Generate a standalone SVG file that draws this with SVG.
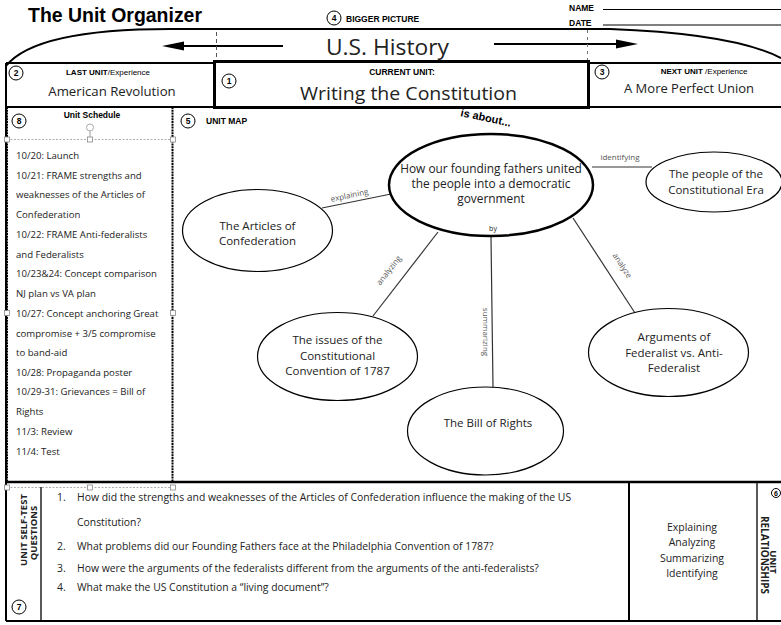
<svg xmlns="http://www.w3.org/2000/svg" width="781" height="625" viewBox="0 0 781 625">
<style>
.frame{fill:none;stroke:#000;stroke-width:2}
.thin{fill:none;stroke:#000;stroke-width:1}
.ar{font-family:"Liberation Sans",Arial,sans-serif}
.cb{font-family:"Open Sans","Noto Sans",sans-serif;fill:#222}
.num{font-family:"Liberation Sans",Arial,sans-serif;font-size:8.5px;font-weight:bold;text-anchor:middle}
.hdr{font-family:"Liberation Sans",Arial,sans-serif;font-size:8.5px;font-weight:bold}
.sch{font-family:"Open Sans","Noto Sans",sans-serif;font-size:9.6px;fill:#222}
.q{font-family:"Open Sans","Noto Sans",sans-serif;font-size:10.4px;fill:#222}
.node ellipse{fill:#fff;stroke:#000;stroke-width:1.2}
.node text{font-family:"Open Sans","Noto Sans",sans-serif;font-size:11.5px;fill:#222;text-anchor:middle}
.conn line{stroke:#333;stroke-width:1.2}
.lbl{font-family:"Open Sans","Noto Sans",sans-serif;font-size:8px;fill:#555;text-anchor:middle}
.handle{fill:#fff;stroke:#888;stroke-width:0.8}
.sel{stroke:#999;stroke-width:0.8;stroke-dasharray:2,1.5;fill:none}
.badge{fill:#fff;stroke:#000;stroke-width:1}
</style>
<rect width="781" height="625" fill="#fff"/>

<g id="title">
<text class="ar" x="28" y="22" font-size="19.5" font-weight="bold" textLength="174" lengthAdjust="spacingAndGlyphs">The Unit Organizer</text>
</g>
<g id="name-date">
<text class="hdr" x="569" y="11">NAME</text>
<line x1="603" y1="9.5" x2="781" y2="9.5" class="thin"/>
<text class="hdr" x="569" y="26">DATE</text>
<line x1="603" y1="25" x2="781" y2="25" class="thin"/>
</g>
<g id="bigger-picture">
<circle class="badge" cx="334" cy="18" r="7"/>
<text class="num" x="334" y="21">4</text>
<text class="hdr" x="346" y="22">BIGGER PICTURE</text>
<path d="M6,66 C30,36 100,29 170,29 L610,29 C690,32 750,42 781,58" class="frame"/>
<text class="cb" x="326" y="55" font-size="22" textLength="123" lengthAdjust="spacingAndGlyphs" fill="#111">U.S. History</text>
<line x1="283" y1="46" x2="180" y2="46" stroke="#000" stroke-width="2"/>
<polygon points="162,46 184,41.5 184,50.5" fill="#000"/>
<line x1="494" y1="44" x2="620" y2="44" stroke="#000" stroke-width="2"/>
<polygon points="638,44 616,39.5 616,48.5" fill="#000"/>
<line x1="216.5" y1="32" x2="216.5" y2="60" stroke="#555" stroke-width="1" stroke-dasharray="4,3"/>
<line x1="587.5" y1="30" x2="587.5" y2="60" stroke="#777" stroke-width="1" stroke-dasharray="3,4"/>
</g>

<g id="frame">
<line x1="6" y1="63" x2="781" y2="63" class="frame"/>
<line x1="6" y1="63" x2="6" y2="621" class="frame"/>
<line x1="6" y1="107" x2="781" y2="107" class="frame"/>
<line x1="6" y1="482" x2="781" y2="482" stroke="#000" stroke-width="2.5"/>
<line x1="6" y1="621" x2="781" y2="621" class="frame"/>
</g>

<g id="last-unit">
<circle class="badge" cx="16" cy="73" r="7"/>
<text class="num" x="16" y="76">2</text>
<text class="ar" x="108" y="75" font-size="8" text-anchor="middle"><tspan font-weight="bold">LAST UNIT</tspan>/Experience</text>
<text class="cb" x="112" y="96" font-size="13.2" text-anchor="middle">American Revolution</text>
</g>

<g id="current-unit">
<rect x="214.5" y="61.5" width="374" height="46" fill="#fff" stroke="#000" stroke-width="3"/>
<circle class="badge" cx="229" cy="81" r="7"/>
<text class="num" x="229" y="84">1</text>
<text class="hdr" x="402" y="75" text-anchor="middle">CURRENT UNIT:</text>
<text class="cb" x="408.5" y="100" font-size="18.5" text-anchor="middle" textLength="217" lengthAdjust="spacingAndGlyphs" fill="#111">Writing the Constitution</text>
</g>

<g id="next-unit">
<circle class="badge" cx="602" cy="72" r="7"/>
<text class="num" x="602" y="75">3</text>
<text class="ar" x="704" y="74" font-size="8" text-anchor="middle"><tspan font-weight="bold">NEXT UNIT</tspan> /Experience</text>
<text class="cb" x="689" y="93" font-size="13" text-anchor="middle">A More Perfect Union</text>
</g>

<g id="unit-schedule">
<line x1="7" y1="107" x2="7" y2="482" stroke="#000" stroke-width="2" stroke-dasharray="2,0.8"/>
<line x1="172.5" y1="107" x2="172.5" y2="482" stroke="#000" stroke-width="2" stroke-dasharray="2,0.8"/>
<circle class="badge" cx="19" cy="121" r="7"/>
<text class="num" x="19" y="124">8</text>
<text class="hdr" x="92" y="118" text-anchor="middle">Unit Schedule</text>
<line x1="90" y1="131" x2="90" y2="139" stroke="#888" stroke-width="0.8"/>
<circle cx="90" cy="127.5" r="3.5" fill="#fff" stroke="#aaa" stroke-width="1"/>
<line x1="7" y1="139.5" x2="173" y2="139.5" class="sel"/>
<line x1="7" y1="487.5" x2="173" y2="487.5" class="sel"/>
<rect class="handle" x="4.5" y="137" width="5" height="5"/>
<rect class="handle" x="87.5" y="137" width="5" height="5"/>
<rect class="handle" x="170.5" y="137" width="5" height="5"/>
<rect class="handle" x="4.5" y="310.5" width="5" height="5"/>
<rect class="handle" x="170.5" y="310.5" width="5" height="5"/>
<rect class="handle" x="4.5" y="485" width="5" height="5"/>
<rect class="handle" x="87.5" y="485" width="5" height="5"/>
<rect class="handle" x="170.5" y="485" width="5" height="5"/>
<text class="sch" x="16" y="159">10/20: Launch</text>
<text class="sch" x="16" y="179">10/21: FRAME strengths and</text>
<text class="sch" x="16" y="198">weaknesses of the Articles of</text>
<text class="sch" x="16" y="218">Confederation</text>
<text class="sch" x="16" y="238">10/22: FRAME Anti-federalists</text>
<text class="sch" x="16" y="258">and Federalists</text>
<text class="sch" x="16" y="277">10/23&amp;24: Concept comparison</text>
<text class="sch" x="16" y="297">NJ plan vs VA plan</text>
<text class="sch" x="16" y="317">10/27: Concept anchoring Great</text>
<text class="sch" x="16" y="337">compromise + 3/5 compromise</text>
<text class="sch" x="16" y="356">to band-aid</text>
<text class="sch" x="16" y="376">10/28: Propaganda poster</text>
<text class="sch" x="16" y="395">10/29-31: Grievances = Bill of</text>
<text class="sch" x="16" y="415">Rights</text>
<text class="sch" x="16" y="435">11/3: Review</text>
<text class="sch" x="16" y="455">11/4: Test</text>
</g>

<g id="unit-map-label">
<circle class="badge" cx="188" cy="121" r="7"/>
<text class="num" x="188" y="124">5</text>
<text class="hdr" x="206" y="124">UNIT MAP</text>
<text class="ar" x="460" y="116" font-size="11" font-weight="bold" transform="rotate(12 460 116)">is about...</text>
</g>

<g id="connectors" class="conn">
<line x1="322" y1="208" x2="391" y2="194"/>
<line x1="592" y1="167" x2="652" y2="167"/>
<line x1="438" y1="232" x2="373" y2="316"/>
<line x1="491" y1="237" x2="493" y2="387"/>
<line x1="573" y1="218" x2="635" y2="313"/>
<text class="lbl" x="350" y="198" transform="rotate(-12 350 198)">explaining</text>
<text class="lbl" x="620" y="160">identifying</text>
<text class="lbl" x="391" y="272" transform="rotate(-52 391 272)">analyzing</text>
<text class="lbl" x="483" y="332" transform="rotate(90 483 332)">summarizing</text>
<text class="lbl" x="620" y="267" transform="rotate(57 620 267)">analyze</text>
</g>

<g id="node-main" class="node">
<ellipse cx="491" cy="185" rx="102" ry="51" style="stroke-width:2.5"/>
<text x="491" y="173" style="font-size:11.9px">How our founding fathers united</text>
<text x="491" y="188" style="font-size:11.9px">the people into a democratic</text>
<text x="491" y="203" style="font-size:11.9px">government</text>
<text x="493" y="231" style="font-size:7px">by</text>
</g>
<g id="node-articles" class="node">
<ellipse cx="257.5" cy="230.5" rx="75" ry="41"/>
<text x="257.5" y="230">The Articles of</text>
<text x="257.5" y="245">Confederation</text>
</g>
<g id="node-people" class="node">
<ellipse cx="714" cy="182" rx="68" ry="30"/>
<text x="716" y="178">The people of the</text>
<text x="716" y="194">Constitutional Era</text>
</g>
<g id="node-issues" class="node">
<ellipse cx="337.5" cy="356.5" rx="80" ry="44"/>
<text x="337.5" y="344">The issues of the</text>
<text x="337.5" y="360">Constitutional</text>
<text x="337.5" y="375">Convention of 1787</text>
</g>
<g id="node-bill" class="node">
<ellipse cx="485.5" cy="431" rx="78" ry="44"/>
<text x="488" y="427">The Bill of Rights</text>
</g>
<g id="node-arguments" class="node">
<ellipse cx="668.5" cy="352.5" rx="80" ry="44"/>
<text x="674" y="341">Arguments of</text>
<text x="674" y="357">Federalist vs. Anti-</text>
<text x="674" y="372">Federalist</text>
</g>

<g id="self-test">
<line x1="41" y1="487" x2="41" y2="621" stroke="#000" stroke-width="1.3"/>
<text class="cb" x="27" y="530" font-size="9.5" font-weight="bold" text-anchor="middle" transform="rotate(-90 27 530)">UNIT SELF-TEST</text>
<text class="cb" x="37" y="533" font-size="9.5" font-weight="bold" text-anchor="middle" transform="rotate(-90 37 533)">QUESTIONS</text>
<circle class="badge" cx="19" cy="607" r="7"/>
<text class="num" x="19" y="610">7</text>
<text class="q" x="57" y="501">1.</text>
<text class="q" x="77" y="501">How did the strengths and weaknesses of the Articles of Confederation influence the making of the US</text>
<text class="q" x="77" y="526">Constitution?</text>
<text class="q" x="57" y="550">2.</text>
<text class="q" x="77" y="550">What problems did our Founding Fathers face at the Philadelphia Convention of 1787?</text>
<text class="q" x="57" y="572">3.</text>
<text class="q" x="77" y="572">How were the arguments of the federalists different from the arguments of the anti-federalists?</text>
<text class="q" x="57" y="591">4.</text>
<text class="q" x="77" y="591">What make the US Constitution a “living document”?</text>
</g>

<g id="relationships">
<line x1="629" y1="482" x2="629" y2="621" stroke="#000" stroke-width="2"/>
<line x1="757" y1="482" x2="757" y2="621" stroke="#000" stroke-width="1.3"/>
<text class="cb" x="692" y="531" font-size="10.5" text-anchor="middle">Explaining</text>
<text class="cb" x="692" y="546" font-size="10.5" text-anchor="middle">Analyzing</text>
<text class="cb" x="692" y="562" font-size="10.5" text-anchor="middle">Summarizing</text>
<text class="cb" x="692" y="577" font-size="10.5" text-anchor="middle">Identifying</text>
<text class="cb" x="761" y="555" font-size="10" font-weight="bold" text-anchor="middle" transform="rotate(90 761 555)">RELATIONSHIPS</text>
<text class="cb" x="770" y="562" font-size="9.5" font-weight="bold" text-anchor="middle" transform="rotate(90 770 562)">UNIT</text>
<circle class="badge" cx="776" cy="493" r="4.5"/>
<text class="num" x="776" y="496" style="font-size:7px">6</text>
</g>
</svg>
